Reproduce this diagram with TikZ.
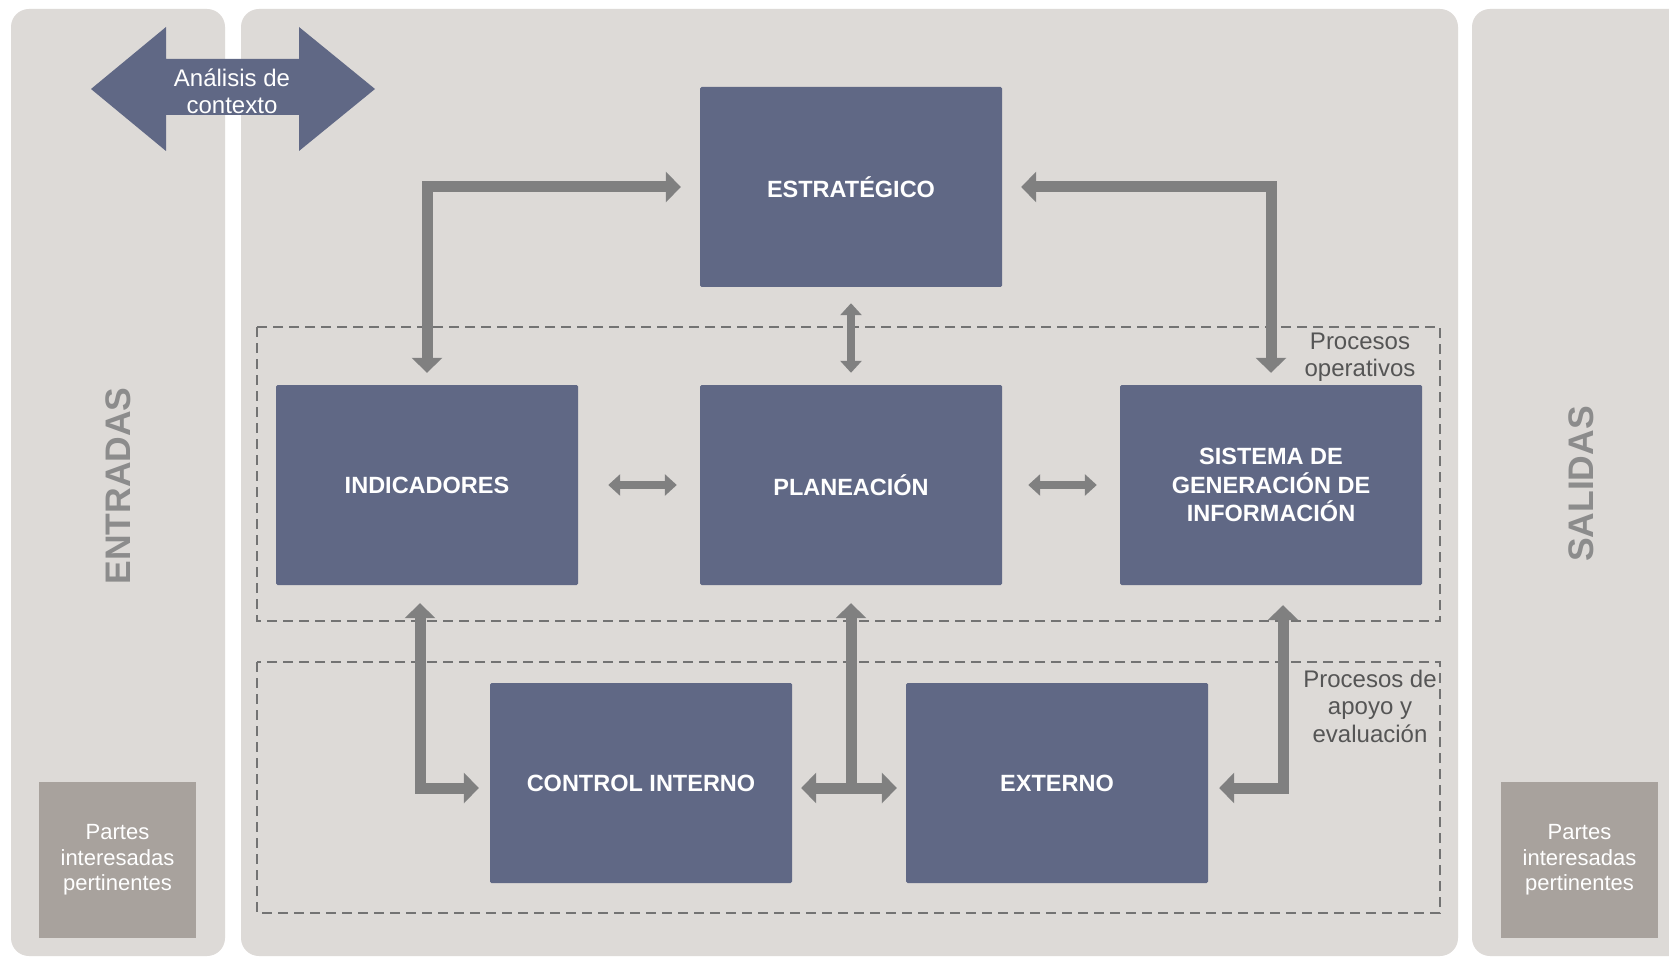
\documentclass[tikz,border=0pt]{standalone}
\usepackage{fontspec}
\setmainfont{Liberation Sans}
\usetikzlibrary{arrows.meta}

\definecolor{panelgray}{HTML}{DDDAD7}
\definecolor{boxblue}{HTML}{606885}
\definecolor{flowgray}{HTML}{808080}
\definecolor{stakegray}{HTML}{A8A29D}
\definecolor{sidetext}{HTML}{8C8C8C}
\definecolor{dashgray}{HTML}{737373}
\definecolor{labelgray}{HTML}{555555}

\begin{document}
\begin{tikzpicture}[x=1pt,y=-1pt,
  panel/.style={fill=panelgray, rounded corners=18pt},
  procbox/.style={fill=boxblue, minimum width=302pt, minimum height=200pt,
    inner sep=0pt, text=white, align=center, rounded corners=1.5pt,
    font=\fontsize{23.5}{28.7}\selectfont\bfseries},
  stakebox/.style={fill=stakegray, minimum width=157pt, minimum height=156pt,
    inner sep=0pt, text=white, align=center,
    font=\fontsize{22}{25.5}\selectfont},
  sidelabel/.style={text=sidetext, font=\fontsize{35.5}{40}\selectfont\bfseries, inner sep=0pt},
  grouplabel/.style={text=labelgray, align=center, inner sep=0pt,
    font=\fontsize{24}{27.5}\selectfont},
  groupframe/.style={draw=dashgray, line width=1.5pt, dash pattern=on 10pt off 6pt},
  flowbig/.style={draw=flowgray, line width=11pt, line join=miter,
    >={Triangle[width=30pt,length=15pt]}, <->},
  flowsmall/.style={draw=flowgray, line width=8.5pt,
    >={Triangle[width=21pt,length=12pt]}, <->},
  flowup/.style={draw=flowgray, line width=11pt,
    >={Triangle[width=30pt,length=15pt]}, ->},
]
\useasboundingbox (0,0) rectangle (1669,957);

% background columns
\fill[white] (0,0) rectangle (1669,957);
\fill[panel] (11,9) rectangle (225,956);
\fill[panel] (241,9) rectangle (1458,956);
\begin{scope}
  \clip (0,0) rectangle (1669,957);
  \fill[panel] (1472,9) rectangle (1700,956);
\end{scope}

% column titles
\node[sidelabel, rotate=90] (entradas) at (118,486) {ENTRADAS};
\node[sidelabel, rotate=90] (salidas) at (1581,484) {SALIDAS};

% stakeholders
\node[stakebox] (partesIn) at (117.5,860) {Partes\\interesadas\\pertinentes};
\node[stakebox] (partesOut) at (1579.5,860) {Partes\\interesadas\\pertinentes};

% context analysis double arrow
\fill[boxblue] (91,89) -- (166,27) -- (166,59) -- (299,59) -- (299,27) -- (375,89)
  -- (299,151) -- (299,115) -- (166,115) -- (166,151) -- cycle;
\node[text=white, align=center, inner sep=0pt, font=\fontsize{24}{27}\selectfont]
  (contexto) at (232,91) {Análisis de\\contexto};

% process groups
\draw[groupframe] (257,327) rectangle (1440,621);
\draw[groupframe] (257,662) rectangle (1440,913);
\node[grouplabel] (lblOper) at (1360,357) {Procesos\\operativos};
\node[grouplabel] (lblApoyo) at (1370,706) {Procesos de\\apoyo y\\evaluación};

% process boxes
\node[procbox] (est) at (851,187) {ESTRATÉGICO};
\node[procbox] (ind) at (427,485) {INDICADORES};
\node[procbox] (pla) at (851,485) {PLANEACIÓN};
\node[procbox] (sis) at (1271,485) {SISTEMA DE\\GENERACIÓN DE\\INFORMACIÓN};
\node[procbox] (ci) at (641,783) {CONTROL INTERNO};
\node[procbox] (ext) at (1057,783) {EXTERNO};

% connectors
\draw[flowbig] ([xshift=-19pt]est.west) -| ([yshift=12pt]ind.north);
\draw[flowbig] ([xshift=19pt]est.east) -| ([yshift=12pt]sis.north);
\draw[flowsmall] ([yshift=-16pt]est.south) -- ([yshift=12pt]pla.north);
\draw[flowsmall] ([xshift=30pt]ind.east) -- ([xshift=-23pt]pla.west);
\draw[flowsmall] ([xshift=26pt]pla.east) -- ([xshift=-23pt]sis.west);
\draw[flowbig] ([xshift=-7pt,yshift=-18pt]ind.south) |- ([xshift=-11pt,yshift=-5pt]ci.west);
\draw[flowbig] ([xshift=9pt,yshift=-5pt]ci.east) -- ([xshift=-9pt,yshift=-5pt]ext.west);
\coordinate (hub) at (851,788);
\draw[flowup] (hub) -- ([yshift=-18pt]pla.south);
\draw[flowbig] ([xshift=12pt,yshift=-20pt]sis.south) |- ([xshift=11pt,yshift=-5pt]ext.east);

\end{tikzpicture}
\end{document}
